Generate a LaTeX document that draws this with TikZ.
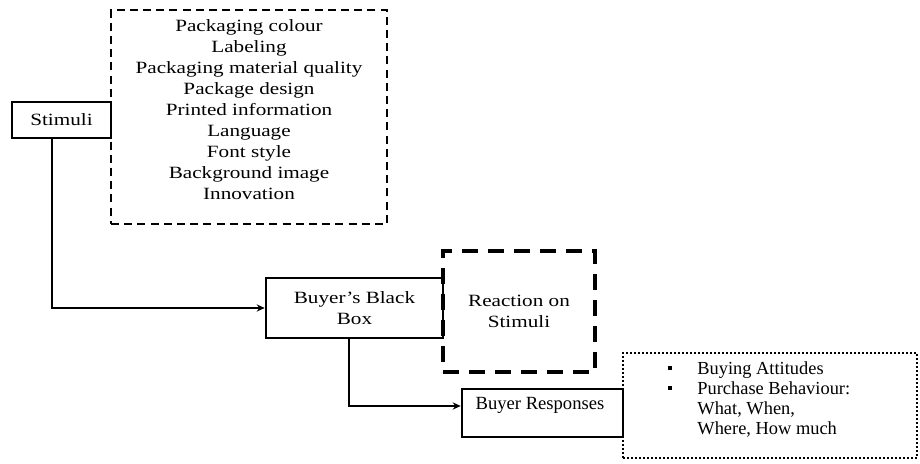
\documentclass[tikz,border=0pt]{standalone}
\usepackage{fontspec}
\setmainfont{Liberation Serif}[FakeStretch=1.23]
\newfontfamily\plainserif{Liberation Serif}
\usetikzlibrary{arrows.meta}

\begin{document}
\begin{tikzpicture}[x=0.5pt, y=-0.5pt,
      font=\fontsize{8.6}{10.5}\selectfont,
      box/.style={draw, line width=1.3pt, inner sep=0pt, align=center},
      cue/.style={draw, line width=0.9pt, dash pattern=on 4pt off 2.6pt,
      inner sep=0pt},
      react/.style={draw, line width=1.8pt, dash pattern=on 8pt off 5pt,
      inner sep=0pt, align=center},
      outc/.style={draw, line width=0.9pt, dash pattern=on 0.9pt off 1.1pt,
      inner sep=0pt},
      flow/.style={-{Stealth[length=4pt, width=3.6pt]}, line width=1pt}
    ]
    \useasboundingbox (0,0) rectangle (920,464);

    \node[cue, minimum width=138pt, minimum height=107pt] (attr) at (249,117) {};
    \node[align=center, inner sep=0pt] (attrlist) at (249,110)
    {Packaging colour\\ Labeling\\ Packaging material quality\\
    Package design\\ Printed information\\ Language\\ Font style\\
    Background image\\ Innovation};
    \node[box, minimum width=49.5pt, minimum height=18pt] (stim) at (61.5,120)
    {Stimuli};

    \node[react, minimum width=76pt, minimum height=60.5pt] (react)
    at (519,311.5) {Reaction on\\ Stimuli};
    \node[box, minimum width=88.5pt, minimum height=30pt] (bbb) at (354.5,308)
    {Buyer’s Black\\ Box};

    \node[outc, minimum width=147pt, minimum height=52.5pt] (outcome)
    at (770,405.5) {};
    \node[box, minimum width=80.5pt, minimum height=24pt] (resp) at (542.5,413) {};
    \node[font=\plainserif\fontsize{9.3}{10.5}\selectfont, inner sep=0pt]
    (resptxt) at (540,405) {Buyer Responses};
    \node[font=\plainserif\fontsize{9.2}{10}\selectfont, align=left,
    inner sep=0pt, anchor=north west] (outlist) at (697,361)
    {\llap{\rule[1.9pt]{2.2pt}{2.2pt}\hspace{12.5pt}}Buying Attitudes\\
    \llap{\rule[1.9pt]{2.2pt}{2.2pt}\hspace{12.5pt}}Purchase Behaviour:\\
    What, When,\\ Where, How much};

    \draw[flow] ([xshift=-4.75pt]stim.south) |- (bbb.west);
    \draw[flow] ([xshift=-2.75pt]bbb.south) |- ([yshift=3.5pt]resp.west);
  \end{tikzpicture}
\end{document}
